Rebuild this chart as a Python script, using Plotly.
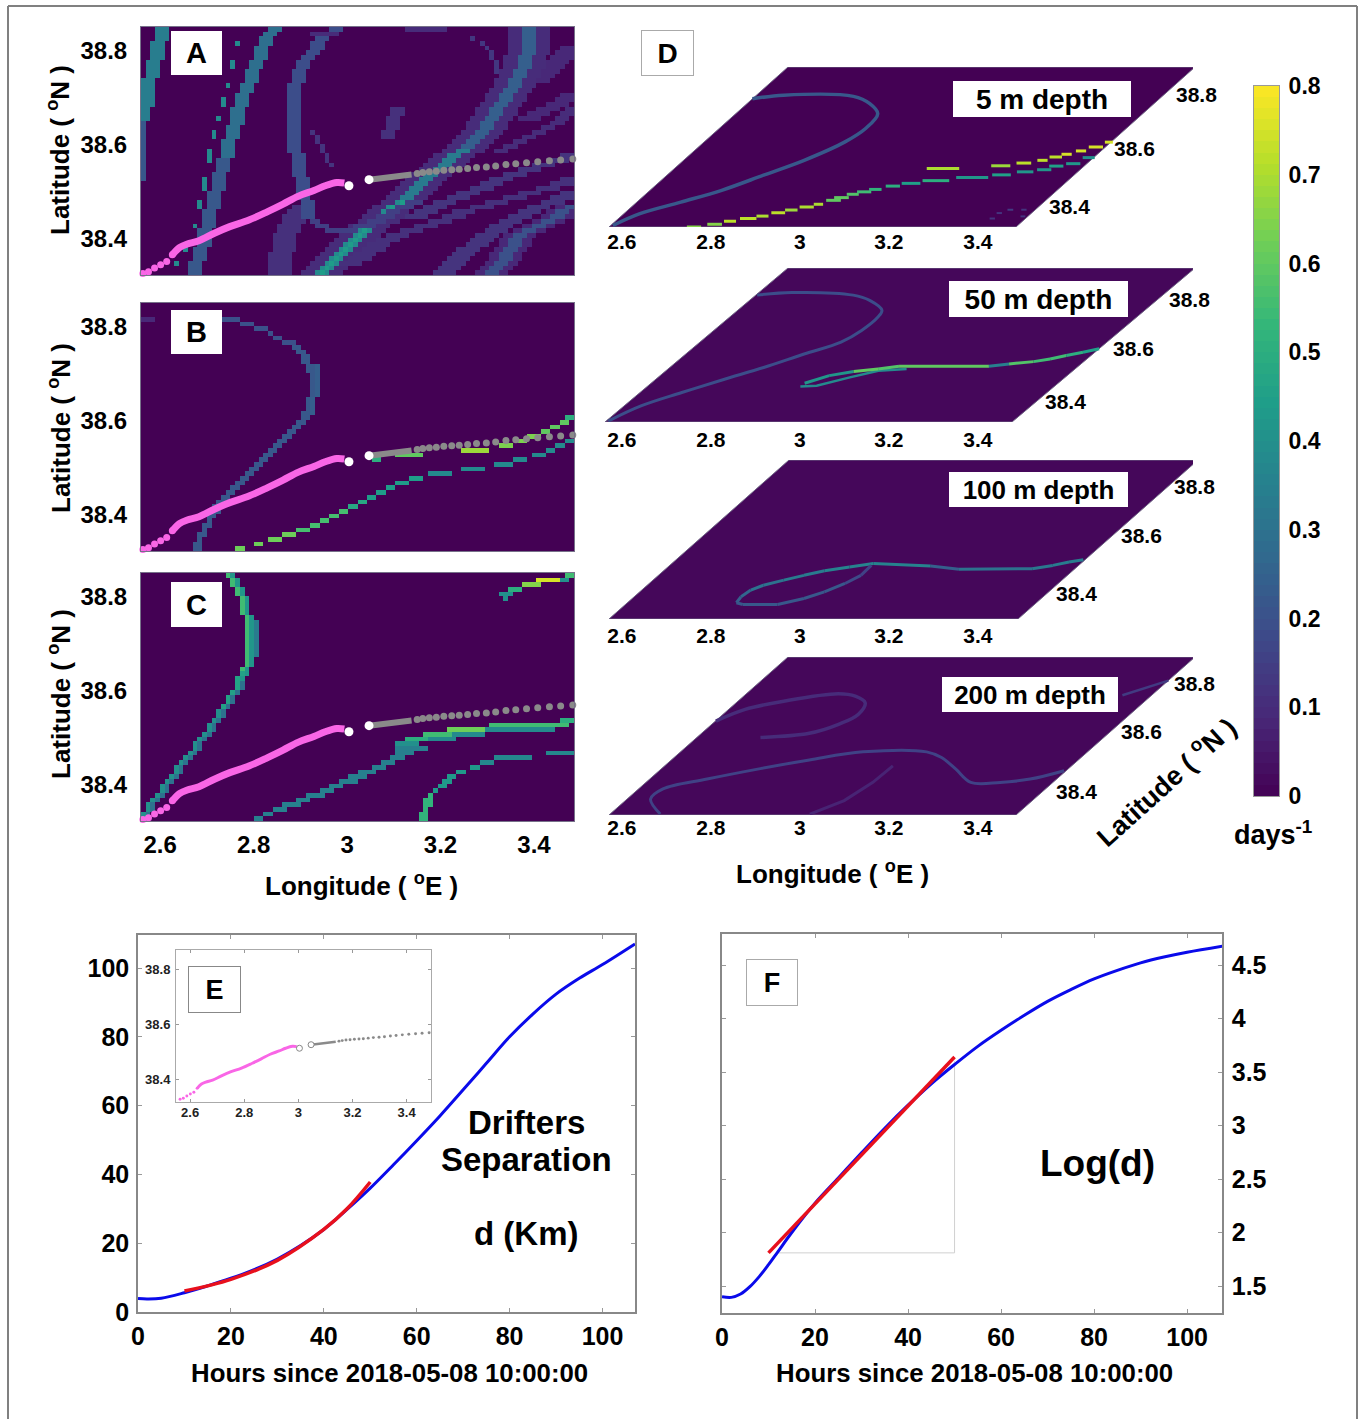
import numpy as np
import plotly.graph_objects as go
from plotly.colors import sample_colorscale

W, H = 1363, 1419
FONT = "Liberation Sans"

# ---------- shared values ----------
LON_TICKS = [2.6, 2.8, 3.0, 3.2, 3.4]
LON_LABELS = ["2.6", "2.8", "3", "3.2", "3.4"]
LAT_TICKS = [38.4, 38.6, 38.8]
LAT_LABELS = ["38.4", "38.6", "38.8"]
CBAR_TICKS = [0, .1, .2, .3, .4, .5, .6, .7, .8]
CBAR_LABELS = ["0", "0.1", "0.2", "0.3", "0.4", "0.5", "0.6", "0.7", "0.8"]
CBAR_LEVELS = 64

# drifter tracks
mag_dots_lon = [2.563, 2.575, 2.588, 2.601, 2.614, 2.626]
mag_dots_lat = [38.326, 38.330, 38.338, 38.345, 38.352, 38.366]
mag_lon = [2.626, 2.642, 2.658, 2.683, 2.716, 2.749, 2.790, 2.830, 2.863, 2.896, 2.929, 2.953, 2.978, 2.994]
mag_lat = [38.366, 38.382, 38.389, 38.396, 38.412, 38.426, 38.440, 38.458, 38.474, 38.491, 38.503, 38.513, 38.520, 38.519]
mag_end = (3.004, 38.513)
gray_line_lon = [3.047, 3.064, 3.085, 3.105, 3.126, 3.138]
gray_line_lat = [38.526, 38.528, 38.530, 38.533, 38.535, 38.537]
gray_lon = [3.150, 3.162, 3.176, 3.191, 3.207, 3.224, 3.240, 3.258, 3.277, 3.298, 3.318, 3.340, 3.361, 3.384, 3.408, 3.433, 3.457, 3.483]
gray_lat = [38.539, 38.541, 38.543, 38.544, 38.546, 38.547, 38.548, 38.550, 38.552, 38.553, 38.555, 38.558, 38.560, 38.562, 38.564, 38.566, 38.568, 38.570]

# ---------- grid of panels A-C ----------
N_ROWS, N_COLS = 53, 92
GRID_LON0, GRID_LON1 = 2.559, 3.4856
GRID_LAT0, GRID_LAT1 = 38.323, 38.851

# (first row, column per row, half width, value)
A_BANDS = [
    (33, [0,0,0,1,1,1,1,1,1,2,2,2,2,3,3,3,3,4,4,4], 1, .34),
    (20, [0]*13, 0, .22),
    (0, [11,11,11,12,12,12,13,13,13,13,14,14,14,14,15,15,15,15,16,16,16,16,17,17,17,18,18,18,18,19,19,19,20,20,20,20,21,21,21,22,22,23,23,23,24,24,25,25,25,26,26,27,28], 1, .22),
    (25, [18,18,18,18,19,19,19,20,20,20,20,21,21,21,22,22,23,23,23,24,24,25,25,25,26,26,27,28], 1, .29),
    (12, [35,35,35,35,34,34,34,34,34,33,33,33,33,33,32,32,32,32,32,32,32,32,32,32,32,32,32,32,32,33,33,33,34,34,35,36,37,37,38,39,41], 1, .19),
    (0, [29,29,29,29,29,30,30,30,30,31,31,32,32,33,34], 2, .11),
    (23, [40,39,39,38,38,37,37,36], 0, .12),
    (29, [52,52,53,53,53,54,54], 1, .11),
    # halo of the strong band, then the band
    (0, [38,39,40,41,42,43,44,45,46,47,48,50,51,52,53,55,56,57,58,59,60,61,63,64,65,66,68,69,70,71,72,73,73,74,75,75,76,77,77,78,79,79,80,80,81,81,81,82,82,82,82,82,82], 4, .1),
    (0, [38,39,40,41,42,43,44,45,46,47,48,50,51,52,53,55,56,57,58,59,60,61,63,64,65,66,68,69,70,71,72,73,73,74,75,75,76,77,77,78,79,79,80,80,81,81,81,82,82,82,82,82,82], 1, .24),
    (0, [38,39,40,41,42,43,44,45,46,47,48,50,51,52,53,55], 1, .38),
    (16, [56,57,58,59,60,61,63,64,65,66,68], 1, .33),
    (0, [38,39,40,41,42,43,44,45,46,47,48,50,51,52,53,55], 0, .44),
    (0, [74,75,76,77,77,78,79,79,80,82,84,86,88,89,91], 3, .09),
    (0, [74,75,76,77,77,78,79,79,80,82,84,86,88,89,91], 1, .2),
    (0, [64,65,66,67,68,69,71,72,73,75,76,78,80,82,84,87,89,91], 2, .12),
    (12, [58,60,62,64,67,69,72,74,76,79,82,85,88,91], 2, .12),
    (2, [44,46,47,49,50,52,54,57,60,63,66,68,72,75,79,82,86,89,91], 2, .11),
    (26, [76,78,80,82,84,86,88,89,90,91], 1, .1),
    (33, [82,84,86,88,90,91], 2, .09),
    (41, [84,85,86,87,88,89,90,91], 2, .09),
    (43, [75,75,75,74,74,73,72,70], 0, .13),
]
# (value, [(row, first col, last col), ...])
A_RUNS = [
    (.38, [(49,20,20),(44,19,19),(45,19,19),(40,18,18),(36,17,17),(37,17,17),(33,16,16),(29,15,15),(30,15,15),
           (24,14,14),(25,14,14),(26,14,14),(18,13,13),(19,13,13),(20,13,13),(14,12,12),(15,12,12),(10,11,11),(5,9,9),(2,7,7)]),
    (.15, [(11,36,37),(10,37,39),(9,39,45),(10,45,49),(11,48,51),(12,50,53),(13,52,54),(14,54,57),(15,56,59)]),
    (.1, [(52,56,64),(51,36,41)]),
]
B_BANDS = [
    (0, [12,12,12,13,13,14,14,15,16,16,17,18,19,20,21,22,23,24,25,26,27,28,29,30,31,32,33,34,35,35,36,36,36,37,37,37,37,37,36,36,35,35,34,33], 0, .22),
    (0, [11,11,12,12,13,13,14,14,15,15,16,17,18,19,20,21,22,23,24,25,26,27,28,29,30,31,32,33,34,34,35,35,35,36,36,36,36,36,35,35,34,34,33,32], 0, .22),
    (29, [36,36,36,36,37,37,37,37,37,37,37], 0, .24),
]
B_RUNS = [
    (.2, [(44,30,32),(45,28,29),(46,27,27),(47,24,26),(48,21,23),(49,17,20)]),
    (.09, [(49,0,2)]),
    (.62, [(0,20,21),(1,24,25),(2,27,29),(3,30,32)]),
    (.56, [(4,33,35),(5,36,37),(6,38,39),(7,40,41),(8,42,43)]),
    (.48, [(9,44,45),(10,46,47)]),
    (.44, [(11,48,49),(12,50,51),(13,52,53),(14,54,56),(15,57,59)]),
    (.38, [(16,61,65),(17,68,72),(18,75,78),(19,79,81),(20,83,85),(21,86,87),(22,88,89),(23,90,91)]),
    (.5, [(19,49,50),(28,90,91)]),
    (.6, [(20,54,59),(25,85,86),(26,87,88),(27,89,90)]),
    (.68, [(21,68,73)]),
    (.64, [(22,76,78),(23,80,81),(24,82,84)]),
]
C_LEFT_COLS = [0,0,1,1,2,3,4,4,5,6,7,7,8,9,10,11,11,12,13,14,14,15,16,16,17,18,18,19,20,20,20,21,21,22,22,22,22,22,22,22,22,22,22,22,21,21,21,21,20,20,19,19,18]
C_BANDS = [
    (0, [c + 1 for c in C_LEFT_COLS], 0, .3),
    (30, [c + 1 for c in C_LEFT_COLS[30:]], 0, .42),
    (35, [24,24,24,24,24,24,24,24], 0, .33),
    (0, C_LEFT_COLS, 0, .4),
    (24, C_LEFT_COLS[24:], 0, .46),
    (32, C_LEFT_COLS[32:], 0, .55),
]
C_RUNS = [
    (.35, [(0,24,25),(1,26,27),(2,28,30),(3,30,33),(4,33,35),(5,35,38),(6,38,40),(7,40,42),(8,42,45),(9,44,47),
           (10,46,49),(11,49,51),(12,51,53),(13,53,55),(14,54,57),(15,54,60)]),
    (.4, [(16,54,58)]),
    (.38, [(17,60,66),(18,65,72),(19,72,87)]),
    (.5, [(17,56,60),(21,89,91)]),
    (.55, [(18,60,65),(20,74,90)]),
    (.62, [(19,65,72)]),
    (.52, [(0,59,60),(1,59,60),(2,60,60),(3,60,61),(4,60,61),(5,61,61)]),
    (.43, [(6,62,62),(7,63,64),(8,64,65),(9,65,66),(10,67,68),(11,70,71)]),
    (.37, [(12,72,74),(13,75,82),(14,86,91)]),
    (.4, [(48,76,78),(47,77,77),(51,88,90)]),
    (.5, [(49,78,80)]),
    (.65, [(50,81,84)]),
    (.75, [(51,84,88)]),
    (.55, [(52,90,91)]),
]

# ---------- panel D: (lon start, lon end, lat, value) dashes and polylines ----------
D1_LOW = [
    (2.746,2.778,38.323,.65),(2.785,2.818,38.332,.65),(2.815,2.842,38.342,.72),(2.844,2.881,38.351,.72),
    (2.875,2.902,38.359,.7),(2.900,2.931,38.370,.72),(2.924,2.952,38.379,.68),(2.949,2.981,38.389,.7),
    (2.974,2.995,38.398,.7),(2.992,3.025,38.411,.6),(3.003,3.036,38.420,.6),(3.023,3.050,38.431,.58),
    (3.040,3.072,38.439,.55),(3.061,3.089,38.447,.52),(3.090,3.122,38.458,.5),(3.119,3.161,38.467,.45),
    (3.159,3.219,38.476,.5),(3.227,3.299,38.486,.42),(3.301,3.343,38.495,.45),(3.349,3.386,38.505,.42),
    (3.389,3.421,38.512,.42),(3.407,3.439,38.524,.45),(3.439,3.471,38.532,.42),(3.461,3.488,38.552,.4),
]
D1_UP = [
    (3.138,3.211,38.516,.7),(3.276,3.319,38.525,.68),(3.326,3.359,38.534,.72),(3.366,3.389,38.543,.72),
    (3.385,3.413,38.554,.72),(3.405,3.428,38.563,.75),(3.429,3.452,38.574,.75),(3.448,3.480,38.587,.75),(3.472,3.490,38.603,.75),
]
D1_FAINT = [
    (3.405,3.417,38.351,.12),(3.407,3.419,38.369,.12),(3.423,3.436,38.380,.14),(3.454,3.466,38.380,.12),(3.469,3.480,38.358,.12),
]
D1_ARC_LON = [2.576,2.607,2.670,2.732,2.788,2.842,2.887,2.900,2.890,2.847,2.792,2.632,2.571]
D1_ARC_LAT = [38.328,38.367,38.405,38.444,38.494,38.543,38.603,38.648,38.697,38.730,38.754,38.758,38.746]
D2_ARC_LON = [2.576,2.609,2.665,2.723,2.782,2.837,2.888,2.903,2.904,2.895,2.841,2.790,2.645,2.574]
D2_ARC_LAT = [38.326,38.378,38.424,38.468,38.510,38.556,38.597,38.637,38.683,38.706,38.740,38.758,38.767,38.758]
D2_UP_LON = [2.916,2.951,2.995,3.043,3.083,3.285,3.324,3.373,3.403,3.430,3.459,3.486]
D2_UP_LAT = [38.456,38.482,38.496,38.505,38.514,38.514,38.522,38.530,38.539,38.551,38.562,38.574]
D2_UP_VAL = [.42,.42,.6,.58,.6,.35,.58,.55,.55,.5,.45]
D2_LOW_LON = [2.915,2.950,3.002,3.048,3.107]
D2_LOW_LAT = [38.445,38.447,38.476,38.499,38.505]
D3_LON = [3.486,3.460,3.432,3.394,3.231,3.159,3.024,2.979,2.933,2.898,2.865,2.832,2.816,2.811,2.816,2.835,2.913,2.957,2.986,3.011,3.026,3.024]
D3_LAT = [38.520,38.512,38.501,38.490,38.488,38.499,38.507,38.496,38.483,38.468,38.452,38.435,38.419,38.397,38.377,38.371,38.371,38.391,38.413,38.441,38.468,38.501]
D3_VAL = [.34,.34,.32,.3,.24,.36,.36,.36,.33,.33,.3,.3,.26,.24,.22,.22,.22,.22,.22,.18,.16]
D4_ARC_LON = [2.572,2.608,2.676,2.778,2.822,2.861,2.875,2.856,2.813,2.714]
D4_ARC_LAT = [38.637,38.676,38.704,38.728,38.720,38.698,38.659,38.626,38.596,38.582]
D4_MAIN_LON = [3.481,3.426,3.367,3.301,3.234,3.172,3.124,2.981,2.881,2.793,2.700,2.626,2.624,2.684]
D4_MAIN_LAT = [38.471,38.443,38.432,38.432,38.476,38.515,38.534,38.534,38.507,38.478,38.443,38.410,38.376,38.326]
D4_FAINT_LON = [3.084,3.081,3.063,3.020]
D4_FAINT_LAT = [38.487,38.432,38.371,38.326]
D4_TOP_LON = [3.420,3.486]
D4_TOP_LAT = [38.723,38.772]
D_DEPTHS = ["5 m depth", "50 m depth", "100 m depth", "200 m depth"]

# ---------- panels E and F ----------
hours = [0,2,5,10,15,20,25,30,35,40,45,50,55,60,65,70,75,80,85,90,95,100,107]
sep_km = [3.9,3.8,4.0,5.6,7.6,9.8,12.3,15.4,19.3,24.0,29.8,36,42.8,49.8,57,64.6,72.3,80,86.6,92.4,97,101,107]
fit_hours = [10,20,30,40,45,50]
fit_km = [6.1,9.5,15,24,30,37.8]
log_hours = [0,2,4,6,8,10,12,15,20,25,30,35,40,45,50,55,60,65,70,75,80,85,90,95,100,108]
log_d = [1.40,1.394,1.425,1.494,1.588,1.70,1.82,2.0,2.275,2.51,2.745,2.975,3.19,3.39,3.57,3.74,3.89,4.03,4.16,4.27,4.37,4.45,4.52,4.575,4.62,4.68]
log_fit_hours = [10,50]
log_fit = [1.81,3.64]
box_hours = [12,50,50]
box_log = [1.81,1.81,3.6]
HOUR_TICKS = [0,20,40,60,80,100]
KM_TICKS = [0,20,40,60,80,100]
LOG_TICKS = [1.5,2,2.5,3,3.5,4,4.5]
LOG_LABELS = ["1.5","2","2.5","3","3.5","4","4.5"]

# ---------- helpers ----------
def color_of(v):
    return sample_colorscale("Viridis", [min(v / .8, 1)])[0]

def build_grid(bands, runs):
    z = np.zeros((N_ROWS, N_COLS))
    for r0, cols, hw, val in bands:
        for i, c in enumerate(cols):
            r = r0 + i
            if r < N_ROWS:
                a, b = max(c - hw, 0), min(c + hw + 1, N_COLS)
                z[r, a:b] = np.maximum(z[r, a:b], val)
    for val, items in runs:
        for r, c0, c1 in items:
            z[r, c0:min(c1 + 1, N_COLS)] = val
    return z

def xd(a, b): return [a / W, b / W]
def yd(top, bottom): return [1 - bottom / H, 1 - top / H]

fig = go.Figure()
layout = {}
annots = []

def note(x, y, text, size, angle=0, color="black"):
    annots.append(dict(x=x / W, y=1 - y / H, xref="paper", yref="paper", text=text, showarrow=False,
                       xanchor="center", yanchor="middle", textangle=angle,
                       font=dict(family=FONT, size=size, color=color, weight="bold")))

def box(x0, x1, y0, y1, text, size, border=None):
    annots.append(dict(x=(x0 + x1) / 2 / W, y=1 - (y0 + y1) / 2 / H, xref="paper", yref="paper", text=text,
                       showarrow=False, xanchor="center", yanchor="middle", width=x1 - x0, height=y1 - y0,
                       bgcolor="white", borderpad=0, borderwidth=1 if border else 0, bordercolor=border or "white",
                       font=dict(family=FONT, size=size, color="black", weight="bold")))

def tracks(xa, ya, scale=1.0, hollow=False):
    c = dict(xaxis=xa, yaxis=ya, hoverinfo="skip", showlegend=False, cliponaxis=False)
    pink, gray = "#f966e6", "#8a8a8a"
    fig.add_trace(go.Scatter(x=mag_dots_lon, y=mag_dots_lat, mode="markers", marker=dict(size=7 * scale, color=pink), **c))
    fig.add_trace(go.Scatter(x=mag_lon, y=mag_lat, mode="lines", line=dict(color=pink, width=7 * scale, shape="spline"), **c))
    fig.add_trace(go.Scatter(x=gray_line_lon, y=gray_line_lat, mode="lines", line=dict(color=gray, width=6 * scale), **c))
    fig.add_trace(go.Scatter(x=gray_lon, y=gray_lat, mode="markers", marker=dict(size=7 * scale, color=gray), **c))
    ends = dict(size=9 * scale if not hollow else 6, color="white",
                line=dict(width=1 if hollow else 0, color="#888888"))
    fig.add_trace(go.Scatter(x=[mag_end[0], gray_line_lon[0]], y=[mag_end[1], gray_line_lat[0]], mode="markers", marker=ends, **c))

# ---------- panels A, B, C ----------
lon_centers = list(GRID_LON0 + (np.arange(N_COLS) + .5) * (GRID_LON1 - GRID_LON0) / N_COLS)
lat_centers = list(GRID_LAT0 + (np.arange(N_ROWS) + .5) * (GRID_LAT1 - GRID_LAT0) / N_ROWS)
panels = [(1, 27, 275, A_BANDS, A_RUNS, "A", 150), (2, 303, 551, B_BANDS, B_RUNS, "B", 428), (3, 573, 821, C_BANDS, C_RUNS, "C", 694)]
for n, top, bottom, bands, runs, letter, ylab in panels:
    sfx = "" if n == 1 else str(n)
    fig.add_trace(go.Heatmap(x=lon_centers, y=lat_centers, z=build_grid(bands, runs), colorscale="Viridis", zmin=0, zmax=.8,
                             xaxis="x" + sfx, yaxis="y" + sfx, hoverinfo="skip", showscale=False))
    layout["xaxis" + sfx] = dict(domain=xd(141, 574), range=[GRID_LON0, GRID_LON1], anchor="y" + sfx,
                                 showgrid=False, zeroline=False, showline=True, linecolor="#77728a", linewidth=1, mirror=True,
                                 tickvals=LON_TICKS if n == 3 else [], ticktext=LON_LABELS if n == 3 else [],
                                 ticks="outside", ticklen=2, tickcolor="rgba(0,0,0,0)",
                                 tickfont=dict(family=FONT, size=24, color="black", weight="bold"))
    layout["yaxis" + sfx] = dict(domain=yd(top, bottom), range=[GRID_LAT0, GRID_LAT1], anchor="x" + sfx,
                                 showgrid=False, zeroline=False, showline=True, linecolor="#77728a", linewidth=1, mirror=True,
                                 tickvals=LAT_TICKS, ticktext=LAT_LABELS,
                                 ticks="outside", ticklen=8, tickcolor="rgba(0,0,0,0)",
                                 tickfont=dict(family=FONT, size=24, color="black", weight="bold"))
    tracks("x" + sfx, "y" + sfx)
    note(59, ylab, "Latitude ( <sup>o</sup>N )", 26, angle=-90)
    box(171, 222, top + (4 if n == 1 else 7 if n == 2 else 9), top + (48 if n == 1 else 51 if n == 2 else 54), letter, 29)
note(361, 884, "Longitude ( <sup>o</sup>E )", 26)

# ---------- colour bar on its own axes ----------
cb_edges = np.linspace(0, .8, CBAR_LEVELS + 1)
cb_mid = (cb_edges[:-1] + cb_edges[1:]) / 2
fig.add_trace(go.Heatmap(x=[0], y=list(cb_mid), z=[[v] for v in cb_mid], colorscale="Viridis", zmin=0, zmax=.8,
                         xaxis="x11", yaxis="y11", hoverinfo="skip", showscale=False))
layout["xaxis11"] = dict(domain=xd(1254, 1279), range=[-.5, .5], anchor="y11", showgrid=False, zeroline=False,
                         showticklabels=False, ticks="", showline=True, linecolor="#999999", linewidth=1, mirror=True)
layout["yaxis11"] = dict(domain=yd(86, 796), range=[0, .8], anchor="x11", side="right", showgrid=False, zeroline=False,
                         showline=True, linecolor="#999999", linewidth=1, mirror=True,
                         tickvals=CBAR_TICKS, ticktext=CBAR_LABELS, ticks="outside", ticklen=4, tickcolor="rgba(0,0,0,0)",
                         tickfont=dict(family=FONT, size=23, color="black", weight="bold"))

# ---------- panel D (sheared planes) ----------
D_LON0, D_LAT0, D_LAT1, D_PXDEG = 2.571, 38.323, 38.851, 445.0
D_GEO = [  # bottom-left, bottom-right, top-left, top-right, top, bottom
    (609, 1016, 788, 1193, 67, 227),
    (605, 1012, 788, 1193, 268, 422),
    (609, 1018, 789, 1193, 460, 619),
    (609, 1016, 788, 1193, 657, 815),
]
D_LABEL_BOX = [(953, 1131, 81, 117), (949, 1128, 281, 317), (949, 1128, 472, 507), (942, 1118, 677, 712)]
D_LABEL_SIZE = [28, 28, 26, 26]
D_TICK_STANDOFF = [-6, -3, -4, -8]
D_LAT_LABEL = [[(1069, 206), (1134, 148), (1196, 94)], [(1065, 401), (1133, 348), (1189, 299)],
               [(1076, 593), (1141, 535), (1194, 486)], [(1076, 791), (1141, 732), (1194, 683)]]

for k, (bl, br, tl, tr, top, bottom) in enumerate(D_GEO):
    n = 4 + k
    xa, ya = f"x{n}", f"y{n}"
    shear = (tl - bl) / D_PXDEG

    def sx(lon, lat):
        return [lo + (la - D_LAT0) / (D_LAT1 - D_LAT0) * shear for lo, la in zip(lon, lat)]

    lon1 = D_LON0 + (br - bl) / D_PXDEG
    plane_lon = [D_LON0, lon1, lon1, D_LON0, D_LON0]
    plane_lat = [D_LAT0, D_LAT0, D_LAT1, D_LAT1, D_LAT0]
    fig.add_trace(go.Scatter(x=sx(plane_lon, plane_lat), y=plane_lat, mode="lines", fill="toself",
                             fillcolor="#440154" if k == 0 else "#45075a",
                             line=dict(color="#6f6585", width=1), xaxis=xa, yaxis=ya, hoverinfo="skip", showlegend=False))

    def poly(lon, lat, val, width=3, shape="linear"):
        fig.add_trace(go.Scatter(x=sx(lon, lat), y=lat, mode="lines", line=dict(color=color_of(val), width=width, shape=shape),
                                 xaxis=xa, yaxis=ya, hoverinfo="skip", showlegend=False, cliponaxis=False))

    def polyv(lon, lat, vals, width=3, shape="linear"):
        for i, v in enumerate(vals):
            poly(lon[i:i + 2], lat[i:i + 2], v, width, shape)

    def dashes(items, width=3):
        groups = {}
        for a, b, la, v in items:
            groups.setdefault(v, []).append((a, b, la))
        for v, segs in groups.items():
            xs, ys = [], []
            for a, b, la in segs:
                xs += sx([a, b], [la, la]) + [None]
                ys += [la, la, None]
            fig.add_trace(go.Scatter(x=xs, y=ys, mode="lines", line=dict(color=color_of(v), width=width),
                                     xaxis=xa, yaxis=ya, hoverinfo="skip", showlegend=False, cliponaxis=False))

    if k == 0:
        poly(D1_ARC_LON, D1_ARC_LAT, .22, 3.5, "spline")
        dashes(D1_LOW)
        dashes(D1_UP)
        dashes(D1_FAINT, 2)
    elif k == 1:
        poly(D2_ARC_LON, D2_ARC_LAT, .19, 3, "spline")
        poly(D2_LOW_LON, D2_LOW_LAT, .38, 2.5)
        polyv(D2_UP_LON, D2_UP_LAT, D2_UP_VAL, 3)
    elif k == 2:
        polyv(D3_LON, D3_LAT, D3_VAL, 3)
    else:
        poly(D4_ARC_LON, D4_ARC_LAT, .1, 3.5, "spline")
        poly(D4_MAIN_LON, D4_MAIN_LAT, .16, 3, "spline")
        poly(D4_FAINT_LON, D4_FAINT_LAT, .08, 3)
        poly(D4_TOP_LON, D4_TOP_LAT, .14, 2.5)

    layout[f"xaxis{n}"] = dict(domain=xd(bl, tr), range=[D_LON0, D_LON0 + (tr - bl) / D_PXDEG], anchor=ya,
                               showgrid=False, zeroline=False, showline=False,
                               tickvals=[v + (609 - bl) / D_PXDEG for v in LON_TICKS], ticktext=LON_LABELS,
                               ticks="outside", ticklen=2, tickcolor="rgba(0,0,0,0)",
                               ticklabelstandoff=D_TICK_STANDOFF[k],
                               tickfont=dict(family=FONT, size=21, color="black", weight="bold"))
    layout[f"yaxis{n}"] = dict(domain=yd(top, bottom), range=[D_LAT0, D_LAT1], anchor=xa,
                               showgrid=False, zeroline=False, showline=False, showticklabels=False)
    bx0, bx1, by0, by1 = D_LABEL_BOX[k]
    box(bx0, bx1, by0, by1, D_DEPTHS[k], D_LABEL_SIZE[k])
    for (px, py), lab in zip(D_LAT_LABEL[k], LAT_LABELS):
        note(px, py, lab, 21)

box(642, 693, 31, 75, "D", 28, border="#aaaaaa")
note(832, 872, "Longitude ( <sup>o</sup>E )", 26)
note(1165, 781, "Latitude ( <sup>o</sup>N )", 27, angle=-42)
note(1273, 833, "days<sup>-1</sup>", 27)

# ---------- panel E ----------
AX = dict(showgrid=False, zeroline=False, showline=True, linecolor="#888888", linewidth=1.5, mirror="ticks",
          ticks="inside", ticklen=4, tickcolor="#999999", tickwidth=1)
fig.add_trace(go.Scatter(x=hours, y=sep_km, mode="lines", line=dict(color="#0a0aea", width=3, shape="spline"),
                         xaxis="x8", yaxis="y8", hoverinfo="skip", showlegend=False))
fig.add_trace(go.Scatter(x=fit_hours, y=fit_km, mode="lines", line=dict(color="#e8101c", width=3.5, shape="spline"),
                         xaxis="x8", yaxis="y8", hoverinfo="skip", showlegend=False))
layout["xaxis8"] = dict(AX, domain=xd(138, 635), range=[0, 107], anchor="y8", tickvals=HOUR_TICKS, ticklabelstandoff=1,
                        tickfont=dict(family=FONT, size=25, color="black", weight="bold"))
layout["yaxis8"] = dict(AX, domain=yd(935, 1312), range=[0, 109.6], anchor="x8", tickvals=KM_TICKS, ticklabelstandoff=2,
                        tickfont=dict(family=FONT, size=25, color="black", weight="bold"))
note(390, 1373, "Hours since 2018-05-08 10:00:00", 25.8)
note(526, 1122, "Drifters", 33)
note(526, 1159, "Separation", 33)
note(526, 1233, "d (Km)", 33)

# inset of E
tracks("x9", "y9", scale=.42, hollow=True)
layout["xaxis9"] = dict(AX, domain=xd(176, 431), range=[2.548, 3.49], anchor="y9", tickvals=LON_TICKS, ticktext=LON_LABELS,
                        linecolor="#aaaaaa", linewidth=1, ticklen=3, ticklabelstandoff=-2,
                        tickfont=dict(family=FONT, size=13, color="#222222", weight="bold"))
layout["yaxis9"] = dict(AX, domain=yd(950, 1102), range=[38.316, 38.873], anchor="x9", tickvals=LAT_TICKS, ticktext=LAT_LABELS,
                        linecolor="#aaaaaa", linewidth=1, ticklen=3, ticklabelstandoff=2,
                        tickfont=dict(family=FONT, size=13, color="#222222", weight="bold"))
box(189, 240, 967, 1012, "E", 27, border="#888888")

# ---------- panel F ----------
fig.add_trace(go.Scatter(x=box_hours, y=box_log, mode="lines", line=dict(color="#d0d0d0", width=1),
                         xaxis="x10", yaxis="y10", hoverinfo="skip", showlegend=False))
fig.add_trace(go.Scatter(x=log_hours, y=log_d, mode="lines", line=dict(color="#0a0aea", width=3, shape="spline"),
                         xaxis="x10", yaxis="y10", hoverinfo="skip", showlegend=False))
fig.add_trace(go.Scatter(x=log_fit_hours, y=log_fit, mode="lines", line=dict(color="#e8101c", width=3.5),
                         xaxis="x10", yaxis="y10", hoverinfo="skip", showlegend=False))
layout["xaxis10"] = dict(AX, domain=xd(722, 1222), range=[0, 107.5], anchor="y10", tickvals=HOUR_TICKS, ticklabelstandoff=1,
                         tickfont=dict(family=FONT, size=25, color="black", weight="bold"))
layout["yaxis10"] = dict(AX, domain=yd(934, 1313), range=[1.248, 4.79], anchor="x10", side="right", tickvals=LOG_TICKS,
                         ticktext=LOG_LABELS, ticklabelstandoff=3,
                         tickfont=dict(family=FONT, size=25, color="black", weight="bold"))
note(974, 1373, "Hours since 2018-05-08 10:00:00", 25.8)
note(1097, 1163, "Log(d)", 37)
box(747, 797, 960, 1005, "F", 27, border="#aaaaaa")

# ---------- page ----------
frame = [dict(type="line", xref="paper", yref="paper", x0=8 / W, x1=8 / W, y0=0, y1=1 - 6 / H, line=dict(color="#808080", width=2)),
         dict(type="line", xref="paper", yref="paper", x0=8 / W, x1=1357 / W, y0=1 - 6 / H, y1=1 - 6 / H, line=dict(color="#808080", width=2)),
         dict(type="line", xref="paper", yref="paper", x0=1357 / W, x1=1357 / W, y0=0, y1=1 - 6 / H, line=dict(color="#808080", width=2))]
fig.update_layout(width=W, height=H, margin=dict(l=0, r=0, t=0, b=0, autoexpand=False), autosize=False, paper_bgcolor="white",
                  plot_bgcolor="rgba(0,0,0,0)", showlegend=False, annotations=annots, shapes=frame,
                  font=dict(family=FONT), **layout)
fig.write_html("out.html", config=dict(displayModeBar=False),
               post_script="document.documentElement.style.margin='0';document.body.style.margin='0';document.body.style.padding='0';")
